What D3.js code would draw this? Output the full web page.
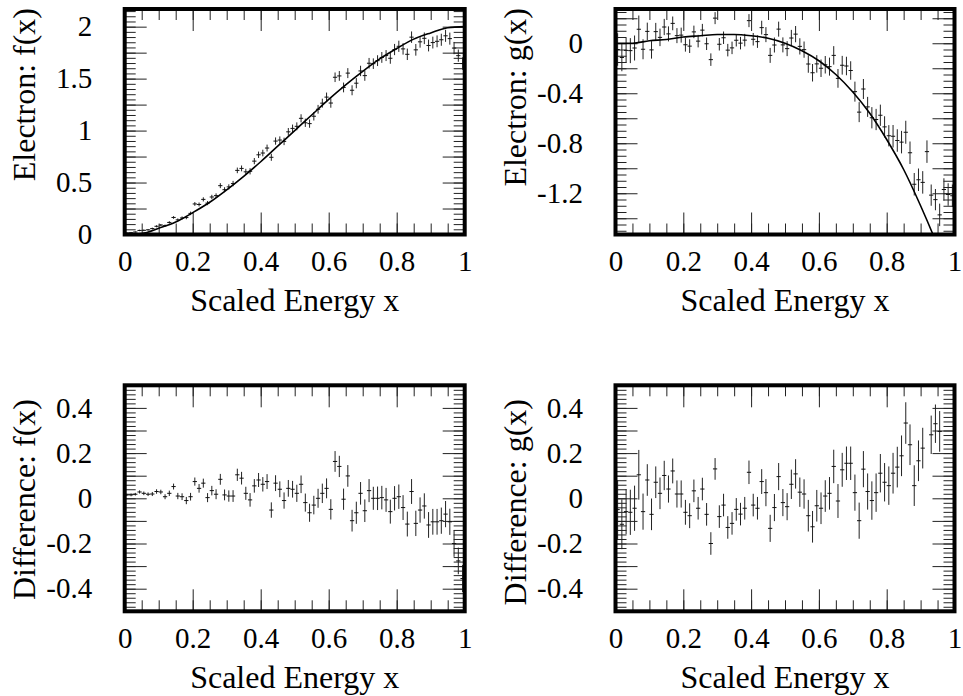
<!DOCTYPE html>
<html>
<head>
<meta charset="utf-8">
<script src="https://cdn.jsdelivr.net/npm/d3@7"></script>
<style>
  html, body { margin: 0; padding: 0; background: #fff; }
  svg { display: block; }
</style>
</head>
<body>
<svg id="chart" width="963" height="696"></svg>
<script>
// ---- data: 80 bins in scaled energy x ----
const nBins = 80;
const binCenters = d3.range(nBins).map(i => (i + 0.5) / nBins);
const halfBin = 0.5 / nBins;

// electron spectrum f(x), measured
const fData = [
  0.015, 0.017, 0.024, 0.039, 0.040, 0.045, 0.057, 0.079, 0.091, 0.085,
  0.116, 0.164, 0.141, 0.159, 0.163, 0.203, 0.294, 0.289, 0.338, 0.302,
  0.361, 0.374, 0.470, 0.431, 0.458, 0.490, 0.617, 0.636, 0.603, 0.608,
  0.706, 0.767, 0.784, 0.832, 0.743, 0.899, 0.909, 0.896, 0.988, 1.021,
  1.041, 1.118, 1.075, 1.067, 1.138, 1.205, 1.264, 1.322, 1.265, 1.513,
  1.526, 1.415, 1.553, 1.388, 1.456, 1.574, 1.529, 1.648, 1.644, 1.673,
  1.704, 1.722, 1.696, 1.780, 1.811, 1.786, 1.734, 1.899, 1.777, 1.854,
  1.888, 1.819, 1.847, 1.859, 1.874, 1.912, 1.885, 1.794, 1.721, 1.645
];
const fErr = [
  0.005, 0.006, 0.006, 0.007, 0.008, 0.008, 0.009, 0.010, 0.010, 0.011,
  0.012, 0.013, 0.014, 0.015, 0.016, 0.017, 0.018, 0.019, 0.020, 0.020,
  0.021, 0.022, 0.024, 0.024, 0.025, 0.026, 0.027, 0.028, 0.029, 0.030,
  0.030, 0.031, 0.032, 0.033, 0.034, 0.035, 0.035, 0.036, 0.037, 0.037,
  0.038, 0.039, 0.040, 0.040, 0.041, 0.042, 0.043, 0.044, 0.045, 0.046,
  0.047, 0.047, 0.048, 0.048, 0.049, 0.050, 0.050, 0.051, 0.051, 0.052,
  0.052, 0.053, 0.053, 0.054, 0.054, 0.055, 0.055, 0.055, 0.056, 0.056,
  0.056, 0.057, 0.057, 0.057, 0.058, 0.058, 0.058, 0.059, 0.059, 0.060
];
// measured minus model, f(x)
const fDiff = [
  0.015, 0.015, 0.018, 0.028, 0.022, 0.018, 0.019, 0.030, 0.028, 0.007,
  0.022, 0.052, 0.010, 0.007, -0.010, 0.007, 0.074, 0.044, 0.067, 0.003,
  0.034, 0.018, 0.084, 0.015, 0.010, 0.010, 0.104, 0.089, 0.022, -0.007,
  0.055, 0.081, 0.062, 0.074, -0.052, 0.067, 0.040, -0.010, 0.044, 0.040,
  0.022, 0.062, -0.019, -0.064, -0.030, 0.000, 0.022, 0.044, -0.049, 0.163,
  0.141, -0.004, 0.099, -0.099, -0.064, 0.022, -0.055, 0.034, 0.000, 0.000,
  0.003, -0.007, -0.059, 0.000, 0.007, -0.041, -0.114, 0.030, -0.111, -0.052,
  -0.034, -0.118, -0.104, -0.104, -0.099, -0.070, -0.104, -0.200, -0.277, -0.355
];

// electron asymmetry g(x), measured
const gData = [
  -0.050, -0.114, -0.057, -0.059, -0.038, 0.112, -0.048, 0.095, -0.053, 0.093,
  0.047, 0.130, 0.075, 0.159, 0.061, 0.065, -0.012, -0.023, 0.091, 0.017,
  0.105, -0.004, -0.131, 0.201, -0.008, 0.044, -0.055, -0.037, 0.024, 0.001,
  0.025, 0.181, 0.032, 0.013, 0.125, 0.069, -0.097, -0.014, 0.113, -0.013,
  -0.043, 0.042, 0.073, -0.025, -0.051, -0.166, -0.236, -0.165, -0.200, -0.172,
  -0.187, -0.097, -0.281, -0.176, -0.182, -0.218, -0.387, -0.551, -0.366, -0.509,
  -0.596, -0.610, -0.576, -0.669, -0.740, -0.744, -0.778, -0.791, -0.712, -0.876,
  -1.128, -1.092, -1.113, -0.867, -1.215, -1.251, -1.373, -1.170, -1.210, -1.220
];
const gErr = [
  0.130, 0.110, 0.100, 0.100, 0.100, 0.110, 0.080, 0.070, 0.070, 0.070,
  0.070, 0.065, 0.060, 0.055, 0.060, 0.060, 0.055, 0.055, 0.050, 0.050,
  0.050, 0.050, 0.050, 0.048, 0.050, 0.050, 0.050, 0.050, 0.050, 0.050,
  0.050, 0.052, 0.050, 0.050, 0.055, 0.060, 0.060, 0.060, 0.060, 0.060,
  0.060, 0.065, 0.065, 0.065, 0.065, 0.070, 0.070, 0.070, 0.070, 0.070,
  0.072, 0.074, 0.075, 0.075, 0.074, 0.074, 0.080, 0.080, 0.080, 0.080,
  0.085, 0.085, 0.085, 0.085, 0.085, 0.090, 0.090, 0.090, 0.092, 0.090,
  0.090, 0.090, 0.090, 0.090, 0.085, 0.085, 0.090, 0.090, 0.090, 0.090
];
// measured minus model, g(x)
const gDiff = [
  -0.050, -0.115, -0.059, -0.062, -0.044, 0.104, -0.059, 0.081, -0.071, 0.071,
  0.022, 0.101, 0.041, 0.121, 0.019, 0.019, -0.062, -0.077, 0.033, -0.044,
  0.041, -0.071, -0.200, 0.130, -0.081, -0.030, -0.129, -0.111, -0.049, -0.070,
  -0.044, 0.115, -0.030, -0.044, 0.074, 0.025, -0.133, -0.041, 0.096, -0.019,
  -0.037, 0.062, 0.108, 0.027, 0.019, -0.077, -0.126, -0.033, -0.044, 0.010,
  0.022, 0.141, -0.012, 0.126, 0.155, 0.155, 0.025, -0.099, 0.129, 0.030,
  -0.010, 0.025, 0.111, 0.071, 0.056, 0.111, 0.138, 0.188, 0.333, 0.237,
  0.056, 0.166, 0.222, 0.547, 0.281, 0.330, 0.296, 0.590, 0.640, 0.730
];

// model curves, sampled every 0.05 in x
const curveX = [0, 0.05, 0.10, 0.15, 0.20, 0.25, 0.30, 0.35, 0.40, 0.45, 0.50,
                0.55, 0.60, 0.65, 0.70, 0.75, 0.80, 0.85, 0.90, 0.95, 1.00];
const fCurve = [0, 0.01, 0.06, 0.12, 0.21, 0.31, 0.43, 0.56, 0.70, 0.85, 1.00,
                1.15, 1.30, 1.44, 1.57, 1.69, 1.79, 1.88, 1.94, 1.99, 2.00];
const gCurve = [0, 0.00, 0.02, 0.03, 0.05, 0.06, 0.07, 0.07, 0.06, 0.04, 0.00,
                -0.06, -0.14, -0.25, -0.39, -0.56, -0.77, -1.01, -1.30, -1.62, -1.98];

// axis ticks and labels
const xTickLabels = [0, 0.2, 0.4, 0.6, 0.8, 1];
const fTickLabels = [0, 0.5, 1, 1.5, 2];
const gTickLabels = [0, -0.4, -0.8, -1.2];
const diffTickLabels = [-0.4, -0.2, 0, 0.2, 0.4];

// ---- layout ----
const FONT = '"Liberation Serif", "Times New Roman", Times, serif';
const LABEL_SIZE = 29, TITLE_SIZE = 32;
const MAJOR = 22, MINOR = 11;

const panels = [
  { left: 124.7, right: 464.7, top: 9, bottom: 234.5, yDomain: [0, 2.17],
    values: fData, errors: fErr, curve: fCurve, yTitle: "Electron: f(x)",
    yLabels: fTickLabels, yMajorStep: 0.25, yMinorStep: 0.05, titleEnd: 8 },
  { left: 615.5, right: 954.5, top: 9, bottom: 234.5, yDomain: [-1.53, 0.274],
    values: gData, errors: gErr, curve: gCurve, yTitle: "Electron: g(x)",
    yLabels: gTickLabels, yMajorStep: 0.2, yMinorStep: 0.05, titleEnd: 8 },
  { left: 124.7, right: 464.7, top: 385.3, bottom: 611.3, yDomain: [-0.5, 0.5],
    values: fDiff, errors: fErr, curve: null, yTitle: "Difference: f(x)",
    yLabels: diffTickLabels, yMajorStep: 0.1, yMinorStep: 0.02, titleEnd: 399 },
  { left: 615.5, right: 954.5, top: 385.3, bottom: 611.3, yDomain: [-0.5, 0.5],
    values: gDiff, errors: gErr, curve: null, yTitle: "Difference: g(x)",
    yLabels: diffTickLabels, yMajorStep: 0.1, yMinorStep: 0.02, titleEnd: 399 }
];

const svg = d3.select("#chart");
const fmt = d => String(+d.toFixed(2));

function stepValues(domain, step) {
  const lo = Math.ceil(domain[0] / step - 1e-6), hi = Math.floor(domain[1] / step + 1e-6);
  return d3.range(lo, hi + 1).map(k => +(k * step).toFixed(4));
}

panels.forEach((p, idx) => {
  const x = d3.scaleLinear().domain([0, 1]).range([p.left, p.right]);
  const y = d3.scaleLinear().domain(p.yDomain).range([p.bottom, p.top]);
  const g = svg.append("g");
  const w = p.right - p.left, h = p.bottom - p.top;

  const clipId = "clip" + idx;
  svg.append("clipPath").attr("id", clipId)
    .append("rect").attr("x", p.left).attr("y", p.top).attr("width", w).attr("height", h);

  // ticks on all four sides, pointing inwards
  const xMajor = stepValues([0, 1], 0.2), xMinor = stepValues([0, 1], 0.05);
  const yMajor = stepValues(p.yDomain, p.yMajorStep), yMinor = stepValues(p.yDomain, p.yMinorStep);

  const tickAxes = [
    [d3.axisBottom(x), p.bottom, "x", xMajor, xMinor],
    [d3.axisTop(x), p.top, "x", xMajor, xMinor],
    [d3.axisLeft(y), p.left, "y", yMajor, yMinor],
    [d3.axisRight(y), p.right, "y", yMajor, yMinor]
  ];
  tickAxes.forEach(([axisFn, pos, dir, major, minor]) => {
    [[minor, MINOR], [major, MAJOR]].forEach(([vals, len]) => {
      const a = g.append("g")
        .attr("transform", dir === "x" ? `translate(0,${pos})` : `translate(${pos},0)`)
        .call(axisFn.tickValues(vals).tickSize(-len).tickFormat(""));
      a.select(".domain").remove();
      a.selectAll("line").attr("stroke", "#222").attr("stroke-width", 1);
    });
  });

  // tick labels
  const xl = g.append("g").attr("transform", `translate(0,${p.bottom})`)
    .call(d3.axisBottom(x).tickValues(xTickLabels).tickSize(0).tickPadding(16).tickFormat(fmt));
  xl.select(".domain").remove();
  xl.selectAll("text").style("font-family", FONT).style("font-size", LABEL_SIZE + "px").attr("fill", "#000");

  const yl = g.append("g").attr("transform", `translate(${p.left},0)`)
    .call(d3.axisLeft(y).tickValues(p.yLabels).tickSize(0).tickPadding(32.5).tickFormat(fmt));
  yl.select(".domain").remove();
  yl.selectAll("text").style("font-family", FONT).style("font-size", LABEL_SIZE + "px").attr("fill", "#000");

  // axis titles
  g.append("text")
    .attr("x", (p.left + p.right) / 2).attr("y", p.bottom + 76.5)
    .attr("text-anchor", "middle")
    .style("font-family", FONT).style("font-size", TITLE_SIZE + "px")
    .text("Scaled Energy x");
  const tx = p.left - 89.7;
  g.append("text")
    .attr("transform", `translate(${tx},${p.titleEnd}) rotate(-90)`)
    .attr("text-anchor", "end")
    .style("font-family", FONT).style("font-size", TITLE_SIZE + "px")
    .text(p.yTitle);

  // data with error bars (points outside the frame are not drawn)
  const plot = g.append("g").attr("clip-path", `url(#${clipId})`);
  const pts = binCenters.map((c, i) => ({ x: c, v: p.values[i], e: p.errors[i] }))
    .filter(d => d.v >= p.yDomain[0] && d.v <= p.yDomain[1]);
  const bars = plot.selectAll("g.pt").data(pts).join("g").attr("class", "pt");
  bars.append("line")
    .attr("x1", d => x(d.x)).attr("x2", d => x(d.x))
    .attr("y1", d => y(d.v - d.e)).attr("y2", d => y(d.v + d.e))
    .attr("stroke", "#222").attr("stroke-width", 1);
  bars.append("line")
    .attr("x1", d => x(d.x - halfBin)).attr("x2", d => x(d.x + halfBin))
    .attr("y1", d => y(d.v)).attr("y2", d => y(d.v))
    .attr("stroke", "#111").attr("stroke-width", 1);

  // model curve
  if (p.curve) {
    const line = d3.line().x((d, i) => x(curveX[i])).y(d => y(d)).curve(d3.curveMonotoneX);
    plot.append("path").datum(p.curve)
      .attr("d", line).attr("fill", "none").attr("stroke", "#000").attr("stroke-width", 1.6);
  }

  // frame
  g.append("rect")
    .attr("x", p.left).attr("y", p.top).attr("width", w).attr("height", h)
    .attr("fill", "none").attr("stroke", "#000").attr("stroke-width", 4);
});
</script>
</body>
</html>
